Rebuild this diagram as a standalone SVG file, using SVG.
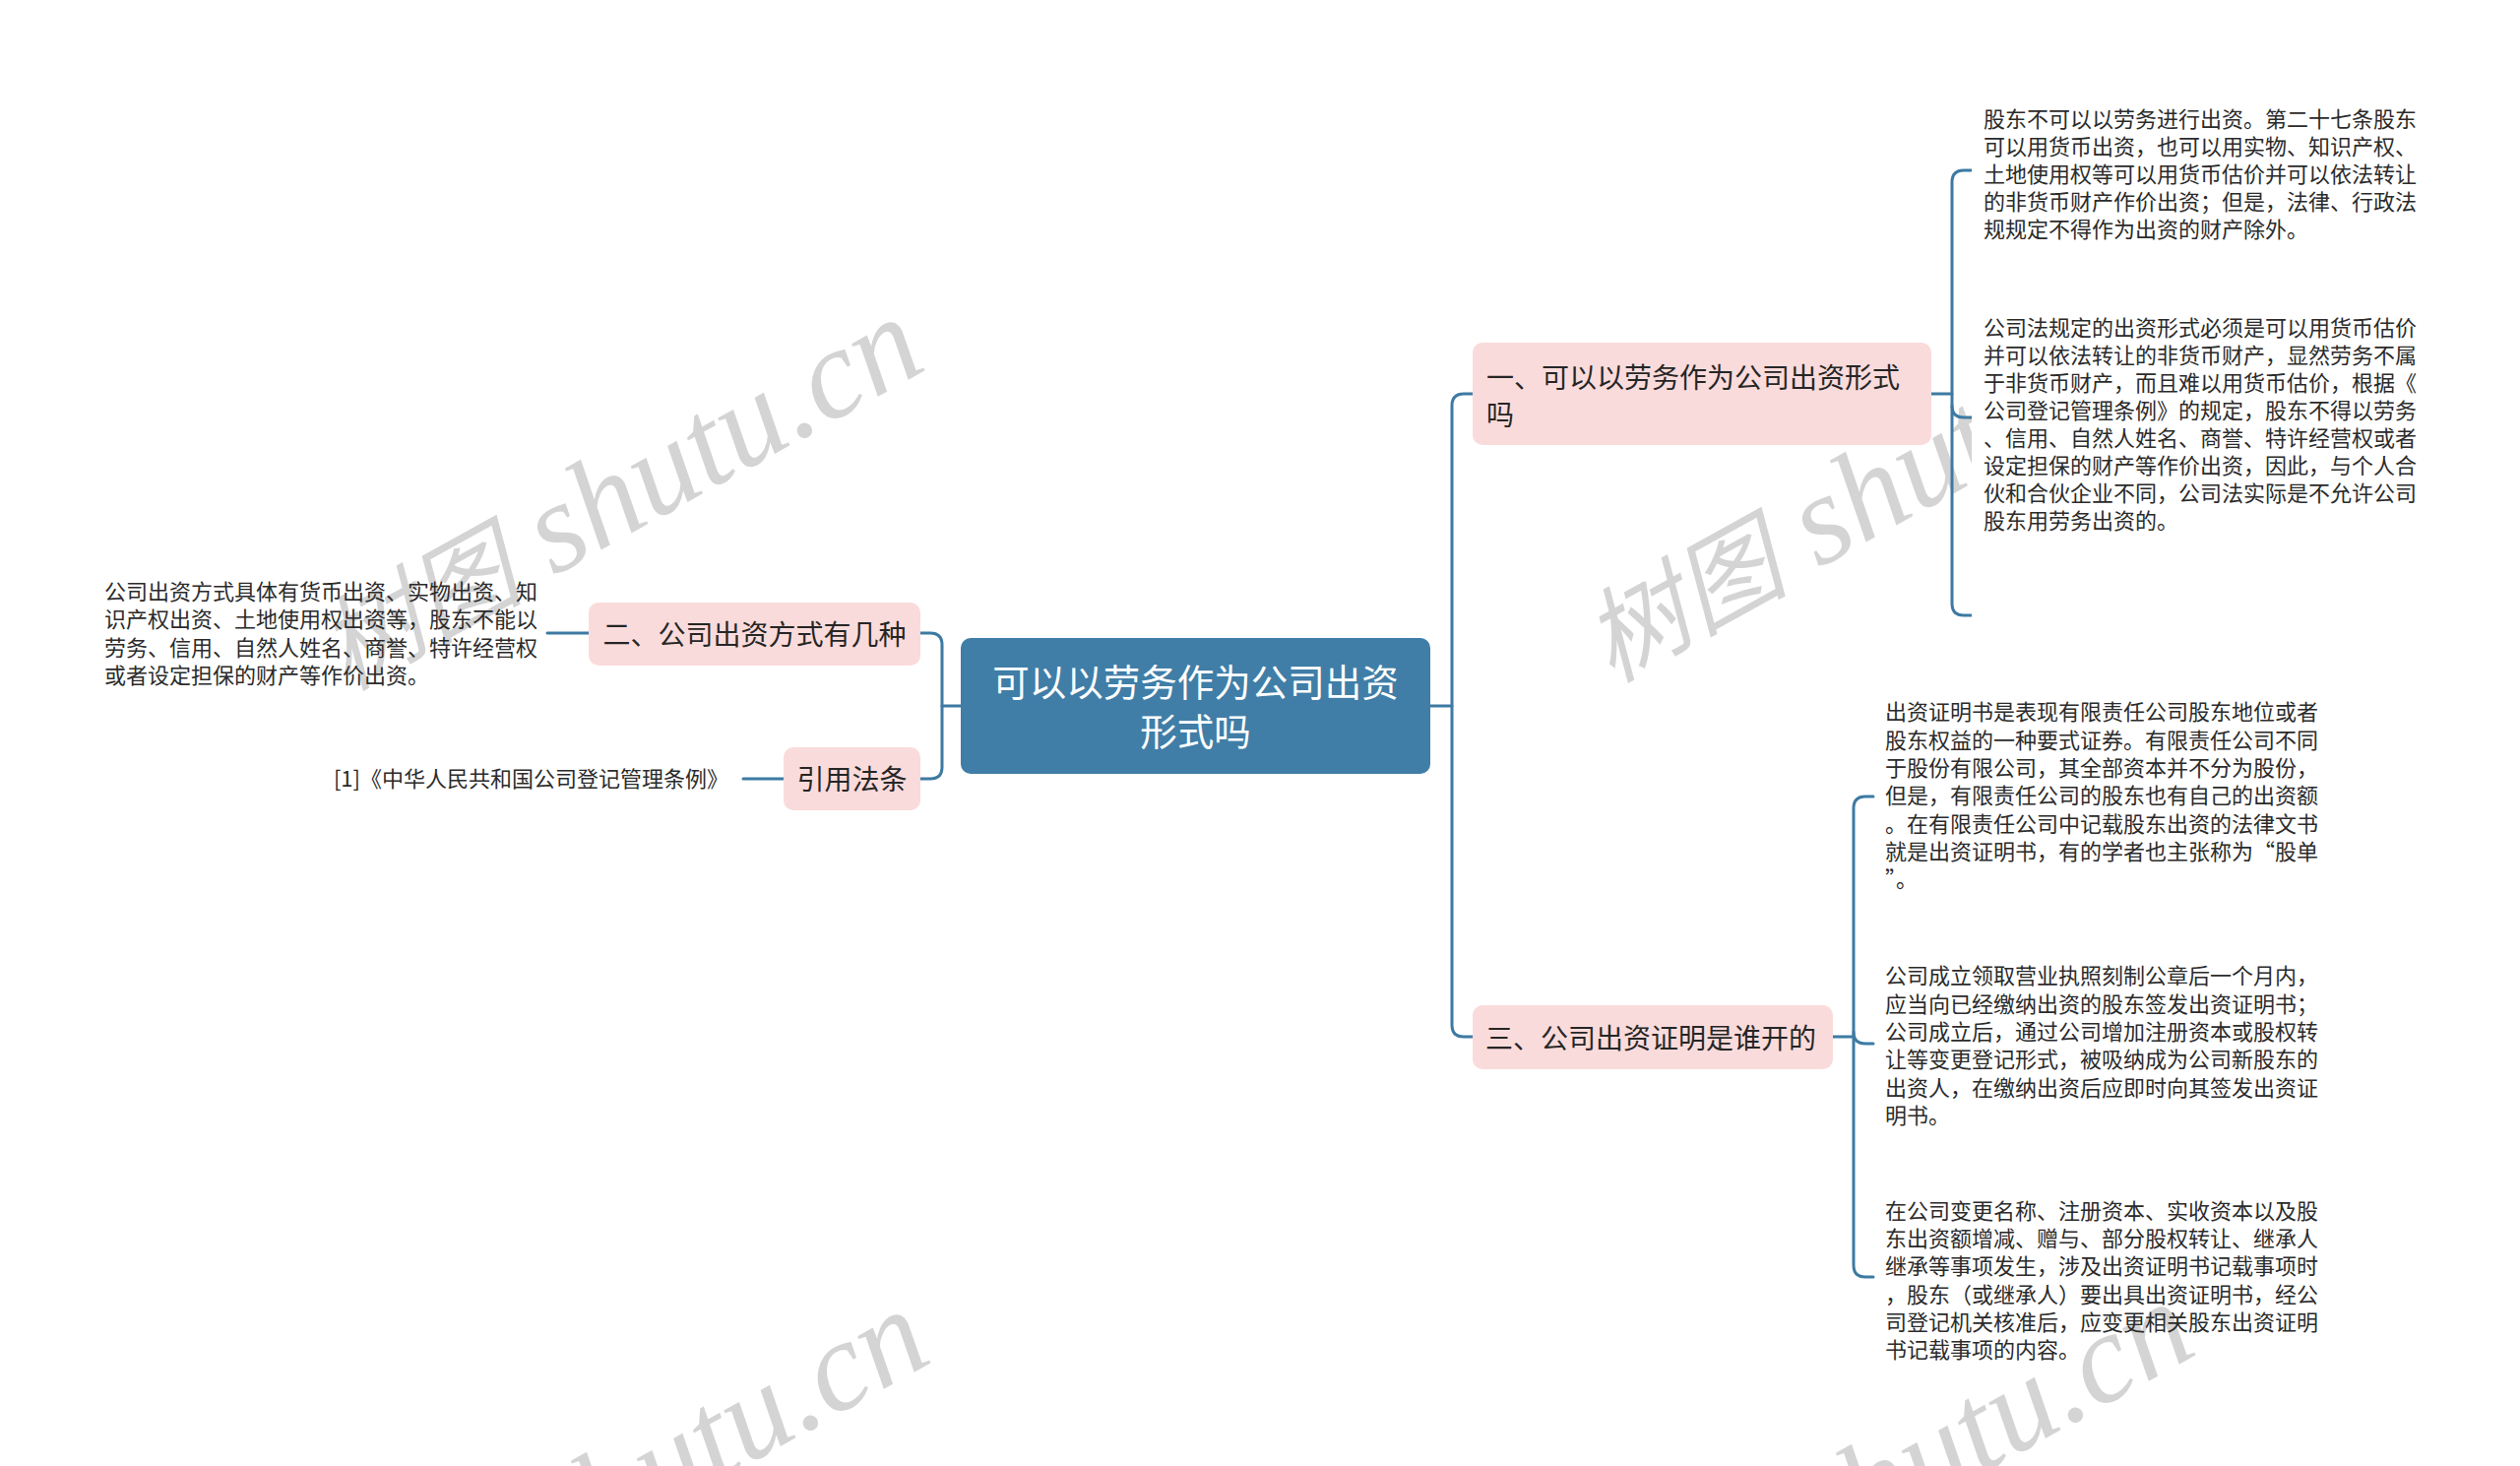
<svg xmlns="http://www.w3.org/2000/svg" width="2560" height="1489" viewBox="0 0 2560 1489">
<defs>
<style>
.wm { fill: #d4d4d4; font-style: italic; }
.wm .cj { font-family: "Noto Sans CJK SC", sans-serif; font-size: 104px; }
.wm .la { font-family: "Liberation Serif", "Noto Sans CJK SC", serif; font-size: 130px; }
.conn { fill: none; stroke: #3d7aa3; stroke-width: 3; stroke-linecap: round; stroke-linejoin: round; }
.root { fill: #407ea7; }
.topic { fill: #fadbdb; }
.rt { font-family: "Noto Sans CJK SC", sans-serif; font-size: 37.5px; fill: #ffffff; text-anchor: middle; }
.tt { font-family: "Noto Sans CJK SC", sans-serif; font-size: 28px; fill: #262626; }
.lt { font-family: "Noto Sans CJK SC", sans-serif; font-size: 22px; fill: #2b2b2b; }
</style>
</defs>
<rect width="2560" height="1489" fill="#ffffff"/>
<g id="watermarks" class="wm">
<text transform="translate(352 702) rotate(-29)"><tspan class="cj">树图</tspan><tspan class="la"> shutu.cn</tspan></text>
<text transform="translate(1637 694) rotate(-29)"><tspan class="cj">树图</tspan><tspan class="la"> shutu.cn</tspan></text>
<text transform="translate(358 1710) rotate(-29)"><tspan class="cj">树图</tspan><tspan class="la"> shutu.cn</tspan></text>
<text transform="translate(1643 1702) rotate(-29)"><tspan class="cj">树图</tspan><tspan class="la"> shutu.cn</tspan></text>
</g>
<g id="connectors">
<path class="conn" d="M1453 717 H1475"/>
<path class="conn" d="M1496 400 H1487 Q1475 400 1475 412 V1041 Q1475 1053 1487 1053 H1496"/>
<path class="conn" d="M1962 400 H1983"/>
<path class="conn" d="M2003 173 H1995 Q1983 173 1983 185 V613 Q1983 625 1995 625 H2003"/>
<path class="conn" d="M1983 412 Q1983 424 1995 424 H2003"/>
<path class="conn" d="M1862 1053 H1883"/>
<path class="conn" d="M1903 809 H1895 Q1883 809 1883 821 V1285 Q1883 1297 1895 1297 H1903"/>
<path class="conn" d="M1883 1048 Q1883 1060 1895 1060 H1903"/>
<path class="conn" d="M976 717 H957"/>
<path class="conn" d="M935 643 H945 Q957 643 957 655 V779 Q957 791 945 791 H935"/>
<path class="conn" d="M598 643 H556"/>
<path class="conn" d="M796 791 H755"/>
</g>
<g id="root">
<rect class="root" x="976" y="648" width="477" height="138" rx="10"/>
<text class="rt" x="1214.5" y="707">可以以劳务作为公司出资</text>
<text class="rt" x="1214.5" y="757">形式吗</text>
</g>
<g id="topic1">
<rect class="topic" x="1496" y="348" width="466" height="104" rx="10"/>
<text class="tt" x="1510" y="394">一、可以以劳务作为公司出资形式</text>
<text class="tt" x="1510" y="432">吗</text>
</g>
<g id="topic2">
<rect class="topic" x="598" y="612" width="337" height="64" rx="10"/>
<text class="tt" x="766.5" y="655" text-anchor="middle">二、公司出资方式有几种</text>
</g>
<g id="topic-law">
<rect class="topic" x="796" y="759" width="139" height="64" rx="10"/>
<text class="tt" x="865.5" y="802" text-anchor="middle">引用法条</text>
</g>
<g id="topic3">
<rect class="topic" x="1496" y="1021" width="366" height="65" rx="10"/>
<text class="tt" x="1509" y="1065">三、公司出资证明是谁开的</text>
</g>
<g id="leaf1a">
<rect x="2003" y="90" width="480" height="210" fill="#ffffff"/>
<text class="lt" x="2015" y="129">股东不可以以劳务进行出资。第二十七条股东</text>
<text class="lt" x="2015" y="157">可以用货币出资，也可以用实物、知识产权、</text>
<text class="lt" x="2015" y="185">土地使用权等可以用货币估价并可以依法转让</text>
<text class="lt" x="2015" y="213">的非货币财产作价出资；但是，法律、行政法</text>
<text class="lt" x="2015" y="241">规规定不得作为出资的财产除外。</text>
</g>
<g id="leaf1b">
<rect x="2003" y="300" width="480" height="360" fill="#ffffff"/>
<text class="lt" x="2015" y="341">公司法规定的出资形式必须是可以用货币估价</text>
<text class="lt" x="2015" y="369">并可以依法转让的非货币财产，显然劳务不属</text>
<text class="lt" x="2015" y="397">于非货币财产，而且难以用货币估价，根据《</text>
<text class="lt" x="2015" y="425">公司登记管理条例》的规定，股东不得以劳务</text>
<text class="lt" x="2015" y="453">、信用、自然人姓名、商誉、特许经营权或者</text>
<text class="lt" x="2015" y="481">设定担保的财产等作价出资，因此，与个人合</text>
<text class="lt" x="2015" y="509">伙和合伙企业不同，公司法实际是不允许公司</text>
<text class="lt" x="2015" y="537">股东用劳务出资的。</text>
</g>
<g id="leaf2">
<text class="lt" x="106" y="609">公司出资方式具体有货币出资、实物出资、知</text>
<text class="lt" x="106" y="637">识产权出资、土地使用权出资等，股东不能以</text>
<text class="lt" x="106" y="666">劳务、信用、自然人姓名、商誉、特许经营权</text>
<text class="lt" x="106" y="694">或者设定担保的财产等作价出资。</text>
</g>
<g id="leaf-law">
<text class="lt" x="740" y="799" text-anchor="end">[1]《中华人民共和国公司登记管理条例》</text>
</g>
<g id="leaf3a">
<text class="lt" x="1915" y="731">出资证明书是表现有限责任公司股东地位或者</text>
<text class="lt" x="1915" y="760">股东权益的一种要式证券。有限责任公司不同</text>
<text class="lt" x="1915" y="788">于股份有限公司，其全部资本并不分为股份，</text>
<text class="lt" x="1915" y="816">但是，有限责任公司的股东也有自己的出资额</text>
<text class="lt" x="1915" y="845">。在有限责任公司中记载股东出资的法律文书</text>
<text class="lt" x="1915" y="873">就是出资证明书，有的学者也主张称为“股单</text>
<text class="lt" x="1915" y="901">”。</text>
</g>
<g id="leaf3b">
<text class="lt" x="1915" y="999">公司成立领取营业执照刻制公章后一个月内，</text>
<text class="lt" x="1915" y="1028">应当向已经缴纳出资的股东签发出资证明书；</text>
<text class="lt" x="1915" y="1056">公司成立后，通过公司增加注册资本或股权转</text>
<text class="lt" x="1915" y="1084">让等变更登记形式，被吸纳成为公司新股东的</text>
<text class="lt" x="1915" y="1113">出资人，在缴纳出资后应即时向其签发出资证</text>
<text class="lt" x="1915" y="1141">明书。</text>
</g>
<g id="leaf3c">
<text class="lt" x="1915" y="1238">在公司变更名称、注册资本、实收资本以及股</text>
<text class="lt" x="1915" y="1266">东出资额增减、赠与、部分股权转让、继承人</text>
<text class="lt" x="1915" y="1294">继承等事项发生，涉及出资证明书记载事项时</text>
<text class="lt" x="1915" y="1323">，股东（或继承人）要出具出资证明书，经公</text>
<text class="lt" x="1915" y="1351">司登记机关核准后，应变更相关股东出资证明</text>
<text class="lt" x="1915" y="1379">书记载事项的内容。</text>
</g>
</svg>
